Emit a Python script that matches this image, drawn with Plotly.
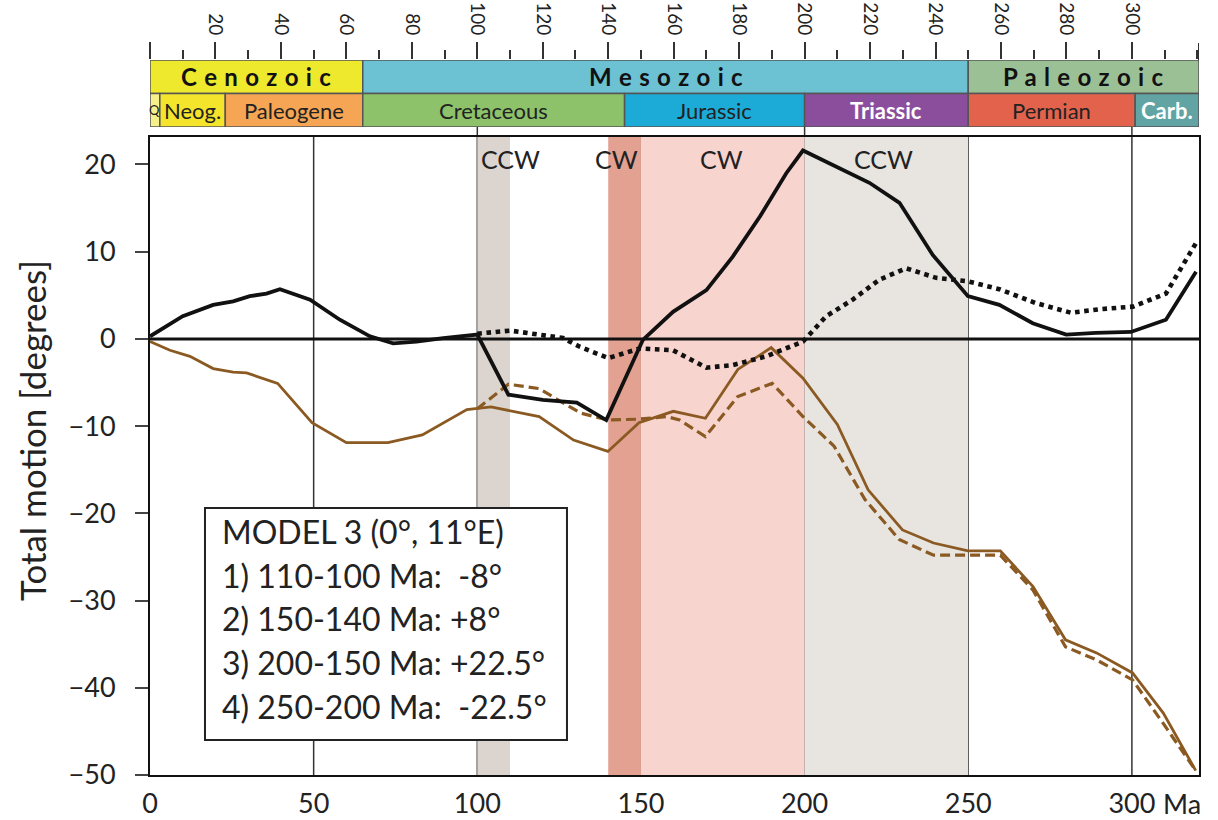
import plotly.graph_objects as go

# ---------------- data ----------------
black_x = [0, 4.6, 10, 19.3, 25.4, 30.5, 35.6, 39.7, 48.9, 58, 67.2, 74.3, 81.4, 89.6, 100,
           109.5, 120, 130.4, 139.4, 150.6, 159.8, 170, 178, 186.3, 194.4, 199.5, 209.7, 219.8,
           229, 239.2, 249.9, 259.5, 269.7, 279.9, 289, 299.7, 310.4, 319.6]
black_y = [0.3, 1.4, 2.6, 3.9, 4.3, 4.9, 5.2, 5.7, 4.5, 2.2, 0.3, -0.5, -0.3, 0.1, 0.5,
           -6.4, -7.0, -7.3, -9.3, -0.1, 3.1, 5.6, 9.4, 14.0, 19.0, 21.6, 19.8, 17.9,
           15.6, 9.6, 4.9, 3.9, 1.8, 0.5, 0.7, 0.8, 2.2, 7.7]

dotted_x = [100, 110, 113, 126.2, 131.3, 140, 149.6, 159.8, 170, 178, 188.3, 199.5, 206.6,
            214.7, 222.9, 231, 240.2, 249.9, 259.5, 270.7, 281.4, 290, 300.3, 310.4, 319.6]
dotted_y = [0.6, 0.95, 0.8, 0.1, -0.9, -2.2, -1.1, -1.3, -3.3, -3.0, -2.0, -0.3, 2.6,
            4.5, 6.8, 8.1, 7.0, 6.6, 5.7, 4.1, 3.0, 3.4, 3.7, 5.2, 11.0]

brown_x = [0, 6.1, 12.2, 19.3, 25.4, 29.5, 39, 49.5, 60, 72.7, 83.2, 96.8, 104.2, 118.9,
           129.4, 139.9, 149.4, 159.9, 169.7, 179.6, 189.8, 199.5, 210, 219.4, 229.9, 239.4,
           249.9, 259.8, 269.8, 279.7, 289.2, 300.2, 309.6, 319.5]
brown_y = [-0.3, -1.3, -2.0, -3.4, -3.8, -3.9, -5.1, -9.6, -11.9, -11.9, -11.0, -8.1, -7.8, -8.9,
           -11.6, -12.9, -9.6, -8.3, -9.1, -3.5, -1.0, -4.5, -9.8, -17.3, -21.9, -23.4,
           -24.3, -24.3, -28.4, -34.5, -36.0, -38.3, -42.9, -49.5]

brown_dash_x = [100, 109.5, 118.9, 123.1, 131.5, 139.9, 149.4, 157.8, 161.8, 169.7, 179.6, 190.1,
                199.5, 209, 218.4, 228.9, 239.4, 249.9, 259.8, 269.8, 279.7, 289.2, 300.2, 309.6, 319.5]
brown_dash_y = [-8.0, -5.2, -5.7, -6.6, -8.5, -9.3, -9.2, -8.9, -9.3, -11.2, -6.6, -5.1,
                -8.9, -12.3, -18.4, -23.0, -24.8, -24.8, -24.8, -28.8, -35.3, -36.8, -39.1, -44.1, -49.5]

# geological time scale
eras = ["Cenozoic", "Mesozoic", "Paleozoic"]
era_start = [0, 65, 250]
era_end = [65, 250, 320.5]
era_colors = ["#EEE92C", "#6CC2D3", "#9CC096"]

periods = ["Q", "Neog.", "Paleogene", "Cretaceous", "Jurassic", "Triassic", "Permian", "Carb."]
per_start = [0, 3, 23, 65, 145, 200, 250, 301]
per_end = [3, 23, 65, 145, 200, 250, 301, 320.5]
per_colors = ["#F6F08C", "#F5E42C", "#F5A553", "#8DC26A", "#1CAAD6", "#8B4E9D", "#E2624C", "#62A3A3"]
per_bold_white = [False, False, False, False, False, True, False, True]

# rotation intervals
band_start = [100, 140, 150, 200]
band_end = [110, 150, 200, 250]
band_colors = ["#DCD5CF", "#E3A192", "#F8D4CF", "#E8E4E0"]
band_labels = ["CCW", "CW", "CW", "CCW"]
band_label_x = [110, 142.5, 174.5, 224]

vlines = [50, 100, 150, 200, 250, 300]
vlines_long = [100, 200, 300]

model_lines = ["MODEL 3 (0°, 11°E)", "1) 110-100 Ma:  -8°", "2) 150-140 Ma: +8°",
               "3) 200-150 Ma: +22.5°", "4) 250-200 Ma:  -22.5°"]

y_ticks = [20, 10, 0, -10, -20, -30, -40, -50]
x_ticks = [0, 50, 100, 150, 200, 250, 300]
top_ticks = list(range(0, 301, 20))

FONT = "Lato, sans-serif"
BROWN = "#8A5A22"
TXT = "#222222"

fig = go.Figure()

fig.add_trace(go.Scatter(x=brown_x, y=brown_y, mode="lines", line=dict(color=BROWN, width=2.8),
                         showlegend=False, hoverinfo="skip"))
fig.add_trace(go.Scatter(x=brown_dash_x, y=brown_dash_y, mode="lines",
                         line=dict(color=BROWN, width=3.2, dash="10px,5px"),
                         showlegend=False, hoverinfo="skip"))
fig.add_trace(go.Scatter(x=dotted_x, y=dotted_y, mode="lines",
                         line=dict(color="#111111", width=4.6, dash="dot"),
                         showlegend=False, hoverinfo="skip"))
fig.add_trace(go.Scatter(x=black_x, y=black_y, mode="lines",
                         line=dict(color="#111111", width=3.8),
                         showlegend=False, hoverinfo="skip"))

# invisible trace on the time-scale axes so they are drawn
fig.add_trace(go.Scatter(x=[0], y=[0], xaxis="x2", yaxis="y2", mode="markers",
                         marker=dict(opacity=0), showlegend=False, hoverinfo="skip"))

shapes = []
MAIN_TOP = (775 - 137) / 715
BAR_BOT = (775 - 127) / 715

for s, e, c in zip(band_start, band_end, band_colors):
    shapes.append(dict(type="rect", xref="x", yref="y", x0=s, x1=e, y0=-50, y1=23.15,
                       fillcolor=c, line=dict(width=0), layer="below"))
for v in vlines:
    y1 = BAR_BOT if v in vlines_long else MAIN_TOP
    shapes.append(dict(type="line", xref="x", yref="paper", x0=v, x1=v, y0=0, y1=y1,
                       line=dict(color="#333333", width=1.5), layer="below"))
shapes.append(dict(type="line", xref="x", yref="y", x0=0, x1=320.5, y0=0, y1=0,
                   line=dict(color="#111111", width=3), layer="below"))

for s, e, c in zip(era_start, era_end, era_colors):
    shapes.append(dict(type="rect", xref="x", yref="y2", x0=s, x1=e, y0=1, y1=2,
                       fillcolor=c, line=dict(color="#555555", width=1.5)))
for s, e, c in zip(per_start, per_end, per_colors):
    shapes.append(dict(type="rect", xref="x", yref="y2", x0=s, x1=e, y0=0, y1=1,
                       fillcolor=c, line=dict(color="#555555", width=1.5)))

shapes.append(dict(type="rect", xref="x", yref="y", x0=16.8, x1=127.4, y0=-46.0, y1=-19.4,
                   fillcolor="white", line=dict(color="#222222", width=2), layer="above"))

# right-end tick of the top scale
shapes.append(dict(type="line", xref="x", yref="paper", x0=320.5, x1=320.5, y0=1, y1=1 + 17 / 715,
                   line=dict(color="#333333", width=2)))

annotations = []
SP = " \u200a"
for name, s, e in zip(eras, era_start, era_end):
    spaced = SP.join(list(name))
    annotations.append(dict(x=(s + e) / 2, y=1.5, xref="x", yref="y2", text=f"<b>{spaced}</b>",
                            showarrow=False, font=dict(size=24, color="#111111", family=FONT)))
for name, s, e, bw in zip(periods, per_start, per_end, per_bold_white):
    txt = f"<b>{name}</b>" if bw else name
    annotations.append(dict(x=(s + e) / 2, y=0.5, xref="x", yref="y2", text=txt, showarrow=False,
                            font=dict(size=13 if name == "Q" else 22,
                                      color="white" if bw else TXT, family=FONT)))
for lab, lx in zip(band_labels, band_label_x):
    annotations.append(dict(x=lx, y=20.6, xref="x", yref="y", text=lab, showarrow=False,
                            font=dict(size=25, color=TXT, family=FONT)))
for i, t in enumerate(model_lines):
    annotations.append(dict(x=21.3, y=-22.1 - 5.0 * i, xref="x", yref="y", text=t, showarrow=False,
                            xanchor="left", font=dict(size=32, color=TXT, family=FONT)))
annotations.append(dict(x=-0.1125, y=0.4825, xref="paper", yref="paper", text="Total motion [degrees]",
                        xanchor="center", yanchor="middle",
                        textangle=-90, showarrow=False, font=dict(size=35, color=TXT, family=FONT)))
annotations.append(dict(x=308.8, y=-50, xref="x", yref="y", yshift=-28, xanchor="left",
                        text="Ma", showarrow=False, font=dict(size=27, color=TXT, family=FONT)))

fig.update_layout(
    width=1218, height=820,
    margin=dict(l=150, r=19, t=60, b=45, autoexpand=False),
    paper_bgcolor="white", plot_bgcolor="rgba(0,0,0,0)",
    font=dict(family=FONT, color=TXT),
    shapes=shapes, annotations=annotations,
    xaxis=dict(range=[0, 320.5], domain=[0, 1], anchor="y", showgrid=False, zeroline=False,
               tickvals=x_ticks, ticktext=[str(v) for v in x_ticks], ticks="",
               tickfont=dict(size=27, color=TXT), showline=True, linecolor="#111111",
               linewidth=2, mirror=True, ticklabelstandoff=4),
    yaxis=dict(range=[-50, 23.15], domain=[0, MAIN_TOP], anchor="x", showgrid=False, zeroline=False,
               tickvals=y_ticks, ticks="outside", ticklen=13, tickwidth=1.5, tickcolor="#444444",
               tickfont=dict(size=27, color=TXT), showline=True, linecolor="#111111",
               linewidth=2, mirror=True, ticklabelstandoff=14),
    xaxis2=dict(range=[0, 320.5], domain=[0, 1], anchor="y2", side="top", showgrid=False,
                zeroline=False, tickvals=top_ticks,
                ticktext=["" if v == 0 else str(v) for v in top_ticks],
                ticks="outside", ticklen=17, tickwidth=2, tickcolor="#333333",
                minor=dict(dtick=10, tick0=0, ticks="outside", ticklen=9, tickwidth=2, tickcolor="#333333"),
                tickangle=90, tickfont=dict(size=19, color=TXT), showline=False),
    yaxis2=dict(range=[0, 2], domain=[BAR_BOT, 1], anchor="x2", visible=False, fixedrange=True),
)

fig.write_html("out.html")
